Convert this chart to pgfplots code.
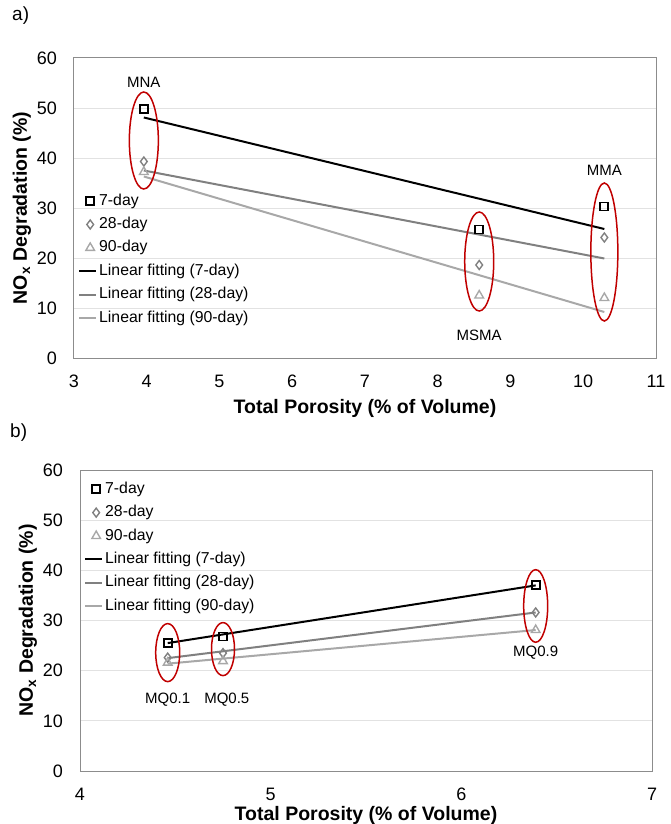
\documentclass[border=0pt]{standalone}
\usepackage{fontspec}
\setmainfont{Liberation Sans}
\usepackage{pgfplots}
\pgfplotsset{compat=1.18}

\definecolor{gridc}{HTML}{E2E2E2}
\definecolor{framec}{HTML}{8C8C8C}
\definecolor{d28}{HTML}{808080}
\definecolor{d90}{HTML}{A8A8A8}
\definecolor{ell}{HTML}{C00000}

\tikzset{
  grouplabel/.style={font=\fontsize{15}{17}\selectfont, inner sep=0pt},
  ring/.style={draw=ell, line width=1.5pt},
}

\pgfplotsset{
  porestyle/.style={
    scale only axis,
    anchor=south west,
    ymin=0, ymax=60, ytick={0,10,...,60},
    ymajorgrids,
    grid style={gridc, line width=1pt},
    axis line style={framec, line width=1pt},
    major tick length=0pt,
    tick label style={font=\fontsize{18}{20}\selectfont, inner sep=0pt},
    /pgf/number format/assume math mode=true,
    yticklabel style={xshift=-17pt},
    xticklabel style={yshift=-17pt},
    xlabel={\bfseries Total Porosity (\% of Volume)},
    ylabel={\bfseries NO\textsubscript{x} Degradation (\%)},
    label style={font=\fontsize{19.5}{22}\selectfont},
    ylabel style={at={(axis description cs:0,0.5)}, anchor=center, yshift=52pt},
    legend cell align=left,
    legend style={draw=none, fill=none, inner sep=0pt,
      font=\fontsize{15.8}{18}\selectfont,
      nodes={inner sep=0pt, text height=11pt, text depth=3pt},
      row sep=9.4pt, column sep=1pt},
  },
  markleg/.style={legend image code/.code={%
      \path[draw=none, fill=none] (0pt,0pt) -- (19pt,0pt);
      \path[##1] plot[only marks] coordinates {(11pt,0pt)};}},
  d7/.style={only marks, mark=square, mark size=4pt, line width=1.8pt, black, markleg},
  d28s/.style={only marks, mark=diamond, mark size=4.5pt, line width=1.4pt, d28, markleg},
  d90s/.style={only marks, mark=triangle, mark size=5pt, line width=1.4pt, d90, markleg},
  fitline/.style={no marks, line width=2pt, #1,
    legend image code/.code={\draw[##1] (0pt,0pt) -- (17pt,0pt);}},
}

\begin{document}
\begin{tikzpicture}
\useasboundingbox (0pt,0pt) rectangle (670pt,-824pt);

\node[anchor=west, inner sep=0pt, font=\fontsize{19}{21}\selectfont] at (12pt,-16pt) {a)};
\node[anchor=west, inner sep=0pt, font=\fontsize{19}{21}\selectfont] at (10pt,-433pt) {b)};

% (a) mortars with different aggregates
\begin{axis}[porestyle,
  at={(74pt,-358pt)}, width=582pt, height=300pt,
  xmin=3, xmax=11, xtick={3,4,...,11},
  xlabel style={at={(axis description cs:0.5,0)}, anchor=center, yshift=-50pt},
  legend style={at={(rel axis cs:0,0.547)}, anchor=north west, xshift=4pt},
]
\addplot[d7] coordinates {(3.96,49.8) (8.57,25.7) (10.29,30.3)};
\addlegendentry{7-day}
\addplot[d28s] coordinates {(3.96,39.3) (8.57,18.6) (10.29,24.1)};
\addlegendentry{28-day}
\addplot[d90s] coordinates {(3.96,37.2) (8.57,12.5) (10.29,12.0)};
\addlegendentry{90-day}
\addplot[fitline=black] coordinates {(3.96,48.1) (10.29,25.8)};
\addlegendentry{Linear fitting (7-day)}
\addplot[fitline=d28] coordinates {(3.96,37.5) (10.29,19.9)};
\addlegendentry{Linear fitting (28-day)}
\addplot[fitline=d90] coordinates {(3.96,36.3) (10.29,9.2)};
\addlegendentry{Linear fitting (90-day)}

\draw[ring] (axis cs:3.96,43.5) ellipse [x radius=14.5pt, y radius=48.5pt];
\draw[ring] (axis cs:8.57,19.3) ellipse [x radius=14.5pt, y radius=49.5pt];
\draw[ring] (axis cs:10.29,21.2) ellipse [x radius=13.5pt, y radius=69pt];
\node[grouplabel] at (axis cs:3.96,55.2) {MNA};
\node[grouplabel] at (axis cs:8.57,4.6) {MSMA};
\node[grouplabel] at (axis cs:10.29,37.6) {MMA};
\end{axis}

% (b) mortars with different quartz contents
\begin{axis}[porestyle,
  at={(80pt,-771pt)}, width=572pt, height=301pt,
  xmin=4, xmax=7, xtick={4,5,6,7},
  xlabel style={at={(axis description cs:0.5,0)}, anchor=center, yshift=-44pt},
  legend style={at={(rel axis cs:0,0.96)}, anchor=north west, xshift=4pt},
]
\addplot[d7] coordinates {(4.46,25.5) (4.75,26.8) (6.39,37.0)};
\addlegendentry{7-day}
\addplot[d28s] coordinates {(4.46,22.6) (4.75,23.5) (6.39,31.6)};
\addlegendentry{28-day}
\addplot[d90s] coordinates {(4.46,21.6) (4.75,21.9) (6.39,28.1)};
\addlegendentry{90-day}
\addplot[fitline=black] coordinates {(4.46,25.5) (6.39,37.0)};
\addlegendentry{Linear fitting (7-day)}
\addplot[fitline=d28] coordinates {(4.46,22.5) (6.39,31.6)};
\addlegendentry{Linear fitting (28-day)}
\addplot[fitline=d90] coordinates {(4.46,21.4) (6.39,28.1)};
\addlegendentry{Linear fitting (90-day)}

\draw[ring] (axis cs:4.46,23.6) ellipse [x radius=12pt, y radius=29pt];
\draw[ring] (axis cs:4.75,24.3) ellipse [x radius=11.5pt, y radius=26.5pt];
\draw[ring] (axis cs:6.39,32.9) ellipse [x radius=12pt, y radius=36.3pt];
\node[grouplabel] at (axis cs:4.46,14.2) {MQ0.1};
\node[grouplabel] at (axis cs:4.77,14.2) {MQ0.5};
\node[grouplabel] at (axis cs:6.39,23.6) {MQ0.9};
\end{axis}
\end{tikzpicture}
\end{document}
